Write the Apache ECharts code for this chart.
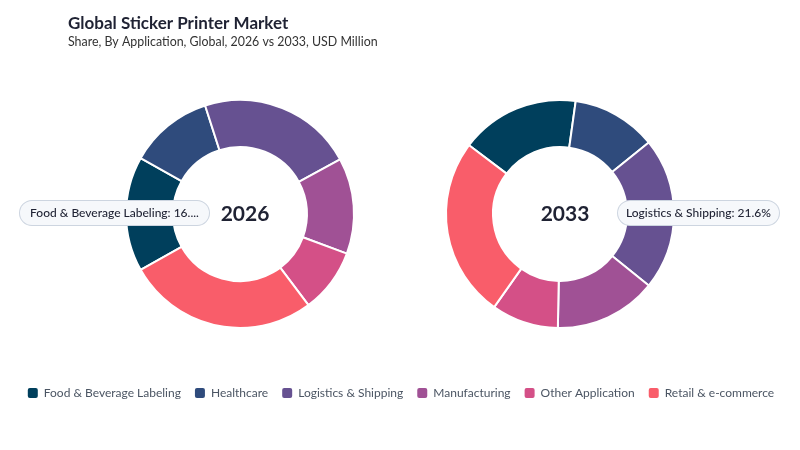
<!DOCTYPE html>
<html>
<head>
<meta charset="utf-8">
<script src="https://cdn.jsdelivr.net/npm/echarts@6/dist/echarts.min.js"></script>
<style>
  html, body { margin: 0; padding: 0; background: #fff; }
  #chart { width: 800px; height: 450px; }
</style>
</head>
<body>
<div id="chart"></div>
<script>
// categories + colours (legend order)
var categories = ['Food & Beverage Labeling', 'Healthcare', 'Logistics & Shipping', 'Manufacturing', 'Other Application', 'Retail & e-commerce'];
var colors = ['#003f5c', '#2f4b7c', '#665191', '#a05195', '#d45087', '#f95d6a'];
var years = ['2026', '2033'];
// share %
var share2026 = [16.3, 11.9, 22.0, 13.6, 9.1, 27.1];
var share2033 = [16.9, 12.0, 21.6, 14.5, 9.5, 25.5];
// which slice carries the callout in each ring
var focus2026 = 0;
var focus2033 = 2;

var FONT = 'Lato, "Noto Sans", sans-serif';

function toData(values) {
  return values.map(function (v, i) {
    return { name: categories[i], value: v, itemStyle: { color: colors[i] } };
  });
}

// rotate the ring so the callout slice sits at 9 o'clock (left) or 3 o'clock (right)
function startFor(values, idx, clockPos) {
  var before = 0;
  for (var i = 0; i < idx; i++) before += values[i];
  var mid = (before + values[idx] / 2) * 3.6; // degrees clockwise from the start
  return clockPos + mid;
}

function calloutLabel(offset, maxW) {
  var lbl = {
    show: true,
    position: 'inside',
    offset: offset,
    formatter: '{b}: {d}%',
    color: '#1f2233',
    fontFamily: FONT,
    fontSize: 12,
    fontWeight: 500,
    backgroundColor: '#f6f8fb',
    borderColor: '#cdd5e0',
    borderWidth: 1,
    borderRadius: 13,
    padding: [6, 8, 6, 8]
  };
  if (maxW) { lbl.width = maxW; lbl.overflow = 'truncate'; }
  return lbl;
}

function ring(values, focus, center, clockPos, offset, maxW) {
  var data = toData(values);
  data[focus].label = calloutLabel(offset, maxW);
  return {
    type: 'pie',
    center: center,
    radius: [67, 114],
    startAngle: startFor(values, focus, clockPos),
    clockwise: true,
    avoidLabelOverlap: false,
    label: { show: false },
    labelLine: { show: false },
    itemStyle: { borderColor: '#fff', borderWidth: 2 },
    emphasis: { disabled: true },
    data: data
  };
}

var chart = echarts.init(document.getElementById('chart'));
chart.setOption({
  animation: false,
  title: [
    {
      text: 'Global Sticker Printer Market',
      left: 63, top: 10,
      textStyle: { fontFamily: FONT, fontSize: 17, fontWeight: 700, color: '#1f2233' }
    },
    {
      text: 'Share, By Application, Global, 2026 vs 2033, USD Million',
      left: 63, top: 31,
      textStyle: { fontFamily: FONT, fontSize: 12.4, fontWeight: 400, color: '#333' }
    },
    {
      text: years[0],
      left: 240, top: 199,
      textAlign: 'center',
      textStyle: { fontFamily: FONT, fontSize: 21, fontWeight: 700, color: '#1f2233' }
    },
    {
      text: years[1],
      left: 560, top: 199,
      textAlign: 'center',
      textStyle: { fontFamily: FONT, fontSize: 21, fontWeight: 700, color: '#1f2233' }
    }
  ],
  legend: {
    data: categories,
    left: 'center',
    top: 381,
    icon: 'roundRect',
    itemWidth: 12,
    itemHeight: 12,
    itemGap: 12,
    textStyle: { fontFamily: FONT, fontSize: 12, color: '#4b5563' }
  },
  series: [
    ring(share2026, focus2026, [240, 214], 180, [-32, -1], 173),
    ring(share2033, focus2033, [560, 214], 0, [45, -1])
  ]
});
</script>
</body>
</html>
